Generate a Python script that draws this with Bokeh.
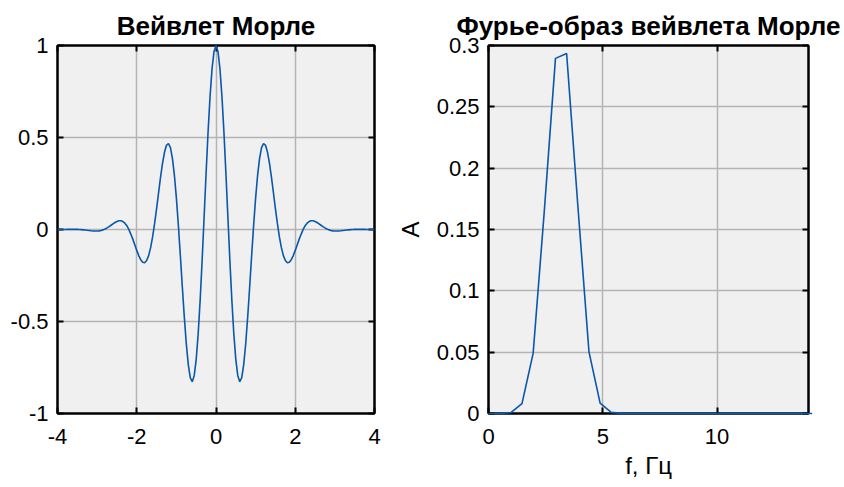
from bokeh.plotting import figure
from bokeh.layouts import row
from bokeh.models import FixedTicker, CustomJSTickFormatter, LinearAxis, Range1d
from bokeh.embed import file_html
from bokeh.resources import INLINE

# Morlet wavelet (t from 0 to 4, step 0.05; curve is even)
t_half = [round(i * 0.05, 2) for i in range(81)]
psi_half = [
    1.0000, 0.9677, 0.8732, 0.7235, 0.5296, 0.3056, 0.0676, -0.1677, -0.3842, -0.5677,
    -0.7070, -0.7946, -0.8269, -0.8048, -0.7330, -0.6194, -0.4746, -0.3108, -0.1406, 0.0239,
    0.1721, 0.2951, 0.3870, 0.4445, 0.4674, 0.4576, 0.4195, 0.3590, 0.2829, 0.1985,
    0.1125, 0.0314, -0.0405, -0.0988, -0.1419, -0.1688, -0.1803, -0.1779, -0.1640, -0.1417,
    -0.1136, -0.0826, -0.0524, -0.0249, 0.0004, 0.0206, 0.0343, 0.0431, 0.0474, 0.0473,
    0.0438, 0.0380, 0.0309, 0.0232, 0.0156, 0.0087, 0.0027, -0.0020, -0.0055, -0.0076,
    -0.0084, -0.0085, -0.0079, -0.0070, -0.0057, -0.0044, -0.0030, -0.0019, -0.0009, -0.0001,
    0.0005, 0.0008, 0.0010, 0.0009, 0.0008, 0.0006, 0.0004, 0.0003, 0.0002, 0.0001, 0.0000,
]
t_vals = [-v for v in t_half[:0:-1]] + t_half
psi_vals = psi_half[:0:-1] + psi_half

# Fourier image (right panel)
f_vals = [round(i * 0.48828, 4) for i in range(30)]
A_vals = [
    0.0000, 0.0000, 0.0008, 0.0080, 0.0490, 0.1650, 0.2895, 0.2935, 0.1700, 0.0505,
    0.0085, 0.0009, 0.0001, 0.0000, 0.0000, 0.0000, 0.0000, 0.0000, 0.0000, 0.0000,
    0.0000, 0.0000, 0.0000, 0.0000, 0.0000, 0.0000, 0.0000, 0.0000, 0.0000, 0.0000,
]

left_xticks = [-4, -2, 0, 2, 4]
left_yticks = [-1, -0.5, 0, 0.5, 1]
right_xticks = [0, 5, 10]
right_yticks = [0, 0.05, 0.1, 0.15, 0.2, 0.25, 0.3]

FONT = "Liberation Sans"
LINE = "#0a57ab"
GRID = "#b4b4b4"
BG = "#f0f0f0"

fmt = CustomJSTickFormatter(code="return Number(tick.toFixed(4)).toString();")
blank = CustomJSTickFormatter(code="return '';")


def style(p, xticks, yticks):
    p.background_fill_color = BG
    p.border_fill_color = "white"
    p.outline_line_color = "black"
    p.outline_line_width = 2
    for ax in (p.below[0], p.left[0]):
        ax.axis_line_color = "black"
        ax.axis_line_width = 2
        ax.major_tick_in = 6
        ax.major_tick_out = 0
        ax.major_tick_line_width = 2
        ax.major_tick_line_color = "black"
        ax.minor_tick_line_color = None
        ax.major_label_text_font = FONT
        ax.major_label_text_font_size = "22px"
        ax.major_label_text_color = "black"
        ax.formatter = fmt
    p.below[0].ticker = FixedTicker(ticks=xticks)
    p.left[0].ticker = FixedTicker(ticks=yticks)
    p.below[0].major_label_standoff = 15
    p.left[0].major_label_standoff = 9
    p.xgrid.ticker = FixedTicker(ticks=xticks)
    p.ygrid.ticker = FixedTicker(ticks=yticks)
    for g in (p.xgrid[0], p.ygrid[0]):
        g.grid_line_color = GRID
        g.grid_line_width = 1.5
    # box ticks on top and right
    top = LinearAxis(ticker=FixedTicker(ticks=xticks), major_tick_in=6, major_tick_out=0,
                     major_tick_line_width=2, axis_line_width=2, minor_tick_line_color=None,
                     formatter=blank, major_label_standoff=0)
    right = LinearAxis(ticker=FixedTicker(ticks=yticks), major_tick_in=6, major_tick_out=0,
                       major_tick_line_width=2, axis_line_width=2, minor_tick_line_color=None,
                       formatter=blank, major_label_standoff=0)
    p.add_layout(top, "above")
    p.add_layout(right, "right")
    p.title.text_font = FONT
    p.title.text_font_size = "26px"
    p.title.text_font_style = "bold"
    p.title.align = "center"
    p.title.text_color = "black"
    p.title.offset = 0
    p.title.standoff = 9


p1 = figure(width=384, height=487, output_backend="svg", toolbar_location=None,
            x_range=Range1d(-4, 4), y_range=Range1d(-1, 1),
            title="Вейвлет Морле",
            min_border_left=57, min_border_right=10, min_border_top=45, min_border_bottom=74)
r1 = p1.line(t_vals, psi_vals, line_color=LINE, line_width=1.6)
r1.level = "overlay"
style(p1, left_xticks, left_yticks)

p2 = figure(width=460, height=487, output_backend="svg", toolbar_location=None,
            x_range=Range1d(0, 14), y_range=Range1d(0, 0.3),
            title="Фурье-образ вейвлета Морле",
            min_border_left=104, min_border_right=36, min_border_top=45, min_border_bottom=74)
r2 = p2.line(f_vals, A_vals, line_color=LINE, line_width=1.6)
r2.level = "overlay"
style(p2, right_xticks, right_yticks)
p2.below[0].axis_label = "f, Гц"
p2.left[0].axis_label = "A"
for ax in (p2.below[0], p2.left[0]):
    ax.axis_label_text_font = FONT
    ax.axis_label_text_font_size = "24px"
    ax.axis_label_text_font_style = "normal"
    ax.axis_label_text_color = "black"
p2.below[0].axis_label_standoff = 5
p2.left[0].axis_label_standoff = 10

layout = row(p1, p2)
open("out.html", "w").write(file_html(layout, INLINE))
